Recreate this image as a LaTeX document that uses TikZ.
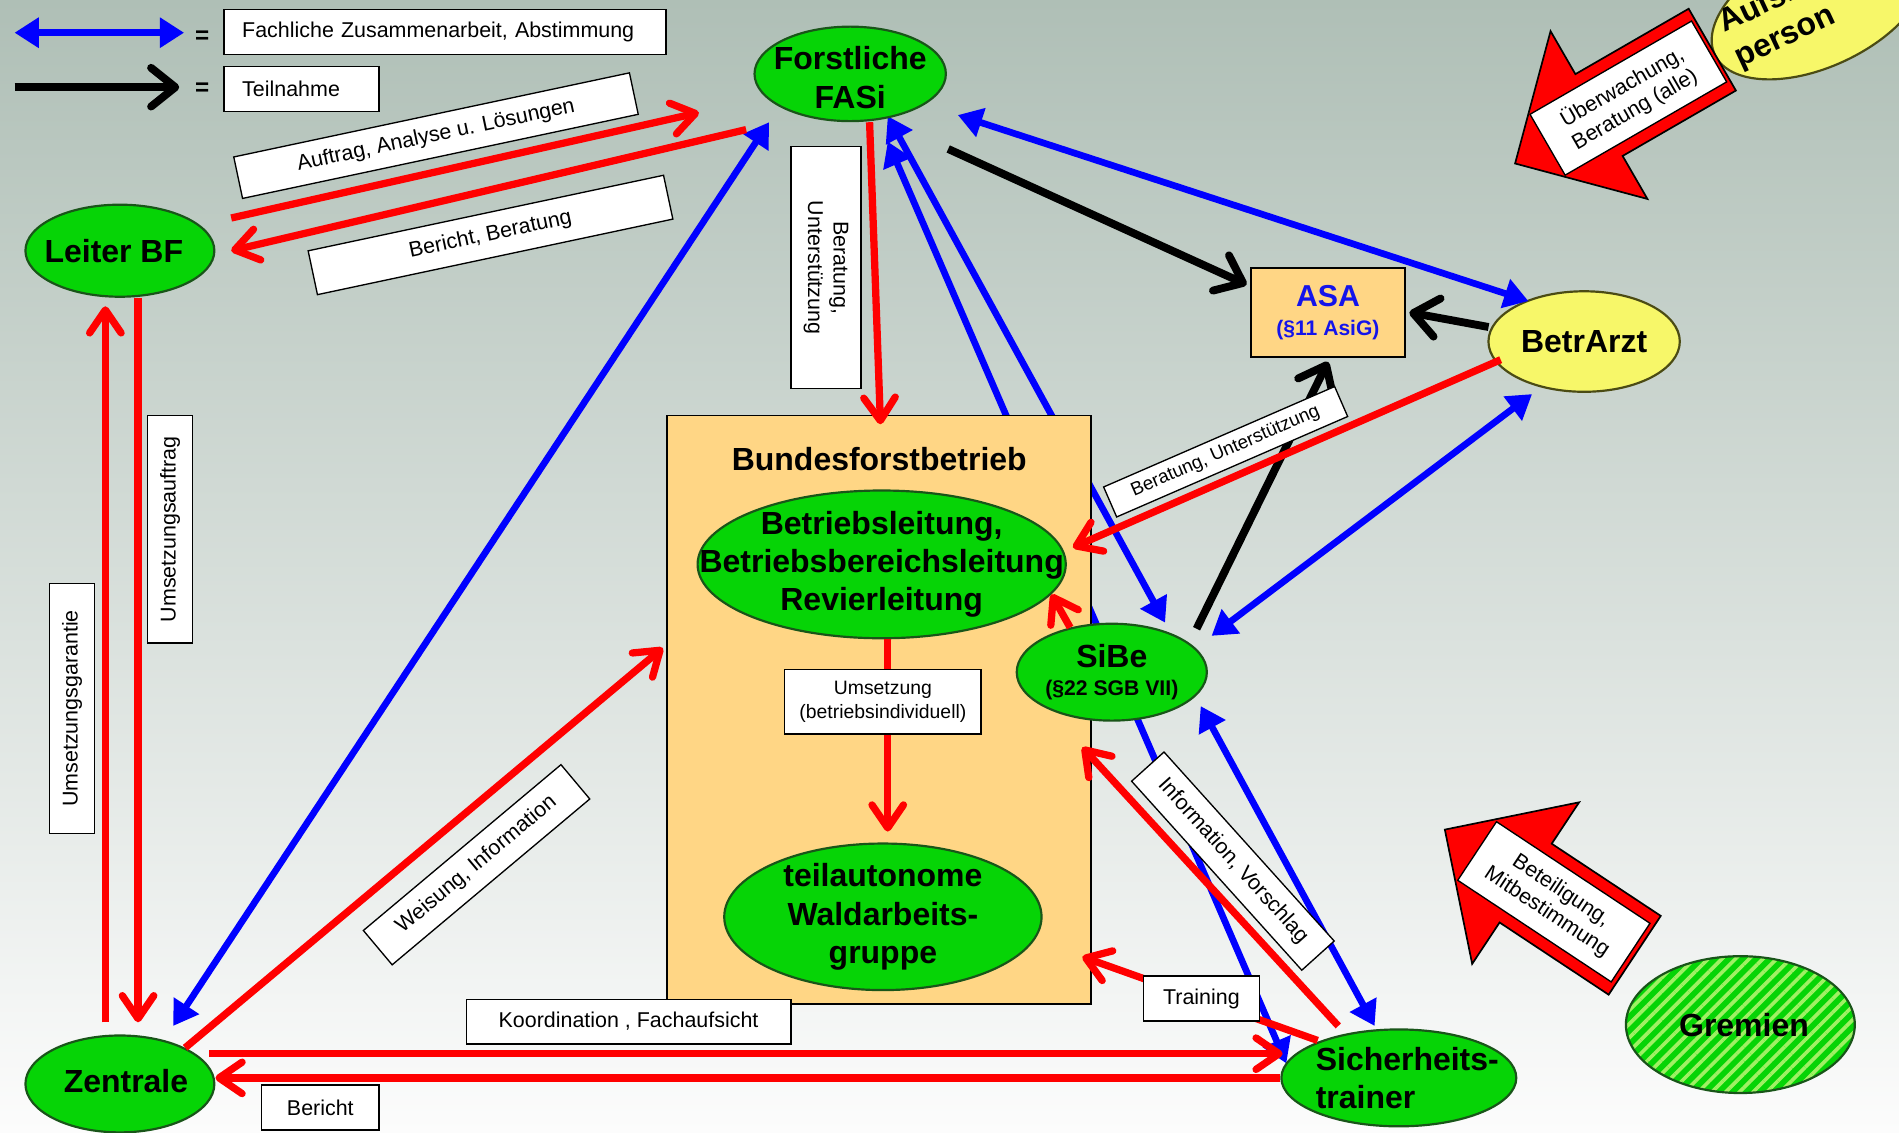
\documentclass[tikz,border=0pt]{standalone}
\usepackage{fontspec}
\setmainfont{Liberation Sans}
\usepackage{tikz}
\usetikzlibrary{shapes.geometric,arrows.meta,calc,patterns.meta}

\definecolor{bgtop}{RGB}{175,191,182}
\definecolor{bgbot}{RGB}{252,252,252}
\definecolor{ballgreen}{RGB}{6,212,6}
\definecolor{balledge}{RGB}{25,85,25}
\definecolor{ballyellow}{RGB}{247,247,105}
\definecolor{yellowedge}{RGB}{75,75,20}
\definecolor{boxorange}{RGB}{255,214,133}
\definecolor{stripe}{RGB}{160,240,100}
\definecolor{asablue}{RGB}{20,20,235}

\pgfdeclarelayer{back}
\pgfdeclarelayer{under}
\pgfsetlayers{back,under,main}

\begin{document}
\begin{tikzpicture}[x=1pt,y=-1pt,
	ball/.style={ellipse,draw=balledge,line width=1.8pt,fill=ballgreen,inner sep=0pt},
	yball/.style={ball,draw=yellowedge,fill=ballyellow},
	bigtext/.style={font=\fontsize{26.4}{31.5}\selectfont\bfseries,align=center},
	lbl/.style={draw,line width=1.1pt,fill=white,inner sep=0pt,align=center,font=\fontsize{17.7}{21}\selectfont},
	obox/.style={draw,line width=1.4pt,fill=boxorange,inner sep=0pt},
	eqsign/.style={font=\fontsize{20}{20}\selectfont\bfseries},
	redarr/.style={draw=red,line width=6pt,-{Straight Barb[length=19pt,width=26pt,round]}},
	bluearr/.style={draw=blue,line width=5.5pt,{Triangle[length=20pt,width=24pt]}-{Triangle[length=20pt,width=24pt]}},
	blackarr/.style={draw=black,line width=6.5pt,-{Straight Barb[length=20pt,width=32pt,round]}},
	blockarr/.style={draw,line width=1.4pt,fill=red,line join=miter}]
	\useasboundingbox (0,0) rectangle (1568,935);
	\begin{pgfonlayer}{back}
		\shade[top color=bgtop,bottom color=bgbot] (0,0) rectangle (1568,935);
	\end{pgfonlayer}

	\coordinate (lb1) at (12,27);
	\coordinate (lb2) at (152,27);
	\coordinate (lk1) at (12,72);
	\coordinate (lk2) at (148,72);
	\draw[bluearr] (lb1) -- (lb2);
	\draw[blackarr] (lk1) -- (lk2);
	\node[eqsign] (eq1) at (167,31) {=};
	\node[eqsign] (eq2) at (167,74) {=};
	\node[lbl,minimum width=365,minimum height=37,text width=335,align=left] (zusarb) at (367.5,26.5) {Fachliche Zusammenarbeit, Abstimmung};
	\node[lbl,minimum width=128,minimum height=37,text width=98,align=left] (teiln) at (249,73.5) {Teilnahme};

	\node[ball,minimum width=156,minimum height=76,label={[bigtext,xshift=-5pt]center:Leiter BF}] (leiterbf) at (99,207) {};
	\node[ball,minimum width=158,minimum height=78,label={[bigtext,yshift=-3pt]center:{Forstliche\\FASi}}] (fasi) at (702,61) {};
	\node[ball,minimum width=156,minimum height=80,label={[bigtext,xshift=5pt,yshift=2pt]center:Zentrale}] (zentrale) at (99,895) {};
	\node[ball,minimum width=194,minimum height=80,label={[bigtext,align=left,xshift=7pt]center:{Sicherheits-\\trainer}}] (sitrainer) at (1155,890) {};
	\node[yball,minimum width=158,minimum height=83,label={[bigtext]center:BetrArzt}] (betrarzt) at (1308,282) {};
	\node[ball,minimum width=189,minimum height=113,preaction={fill=ballgreen},pattern={Lines[angle=45,distance=8pt,line width=3pt]},pattern color=stripe,label={[bigtext,xshift=3pt]center:Gremien}] (gremien) at (1437,846) {};
	\node[yball,rotate=25,minimum width=190,minimum height=100] (aufsicht) at (1502,5) {};
	\node[bigtext,rotate=25,align=left] (aufsichttext) at (1486,8) {Aufsichts-\\person};

	\node[obox,minimum width=350,minimum height=486] (bfb) at (726,586) {};
	\node[bigtext] (bfbtitle) at (726,379) {Bundesforstbetrieb};
	\node[ball,minimum width=304,minimum height=122,label={[bigtext]center:{Betriebsleitung,\\Betriebsbereichsleitung\\Revierleitung}}] (bl) at (728,466) {};
	\node[ball,minimum width=262,minimum height=121,label={[bigtext]center:{teilautonome\\Waldarbeits-\\gruppe}}] (teil) at (729,757) {};
	\node[ball,minimum width=157,minimum height=80,label={[bigtext]center:{SiBe\\[-8pt]{\fontsize{17.5}{20}\selectfont(§22 SGB VII)}}}] (sibe) at (918,555) {};
	\node[obox,minimum width=127,minimum height=74,text=asablue,align=center,font=\fontsize{25}{27}\selectfont\bfseries] (asa) at (1096.5,258) {ASA\\[-3pt]{\fontsize{17.4}{20}\selectfont(§11 AsiG)}};

	\begin{scope}[shift={(1251,135)},rotate=30]
		\draw[blockarr] (0,0) -- (80,-80) -- (80,-39) -- (188,-39) -- (188,39) -- (80,39) -- (80,80) -- cycle;
	\end{scope}
	\begin{scope}[shift={(1193,685)},rotate=-33.5]
		\draw[blockarr] (0,0) -- (80,-80) -- (80,-39) -- (188,-39) -- (188,39) -- (80,39) -- (80,80) -- cycle;
	\end{scope}
	\node[lbl,rotate=30,minimum width=154,minimum height=58] (ueberw) at (1344.5,81) {Überwachung,\\Beratung (alle)};
	\node[lbl,rotate=-33.5,minimum width=152,minimum height=58] (beteil) at (1283,744.6) {Beteiligung,\\Mitbestimmung};

	\begin{pgfonlayer}{under}
		\draw[bluearr] ($(fasi.south)+(31,-5)$) -- ($(sibe.north)+(44,0)$);
		\draw[bluearr] ($(fasi.south)+(31,16)$) -- ($(sitrainer.west)+(5,-12)$);
	\end{pgfonlayer}
	\draw[bluearr] ($(fasi.south)+(-67,0)$) -- ($(zentrale.north)+(44,-7)$);
	\draw[bluearr] ($(fasi.east)+(9,34)$) -- ($(betrarzt.north)+(-46,9)$);
	\draw[bluearr] ($(sibe.east)+(3,-30)$) -- ($(betrarzt.south)+(-43,1)$);
	\draw[bluearr] ($(sibe.east)+(-6,28)$) -- ($(sitrainer.north)+(-20,-2)$);

	\draw[blackarr] ($(fasi.east)+(1,62)$) -- ($(asa.west)+(-3,-23)$);
	\draw[blackarr] ($(betrarzt.west)+(1,-12)$) -- ($(asa.east)+(3,0)$);
	\draw[blackarr] ($(sibe.north)+(70,5)$) -- ($(asa.south)+(0,3)$);

	\draw[redarr] ($(leiterbf.east)+(13,-27)$) -- ($(fasi.west)+(-45,32)$);
	\draw[redarr] ($(fasi.west)+(-6,46)$) -- ($(leiterbf.east)+(13,0)$);
	\draw[redarr] ($(fasi.south)+(16,0)$) -- ($(bfb.north)+(1,8)$);
	\draw[redarr] ($(leiterbf.south)+(15,0)$) -- ($(zentrale.north)+(15,-10)$);
	\draw[redarr] ($(zentrale.north)+(-12,-10)$) -- ($(leiterbf.south)+(-12,7)$);
	\draw[redarr] (zentrale.29) -- ($(bfb.west)+(-3,-51)$);
	\draw[redarr] ($(zentrale.east)+(-5,-25)$) -- ($(sitrainer.west)+(2,-20)$);
	\draw[redarr] (sitrainer.west) -- (sitrainer.west -| zentrale.east);
	\draw[redarr] ($(bl.south)+(5,0)$) -- ($(teil.north)+(4,-9)$);
	\draw[redarr] ($(betrarzt.west)+(11,15)$) -- ($(bl.east)+(5,-14)$);
	\draw[redarr] (sibe.133) -- (bl.-10);
	\draw[redarr] ($(sitrainer.north)+(-50,-2)$) -- ($(bfb.east)+(-8,31)$);
	\draw[redarr] ($(sitrainer.north)+(-67,10)$) -- ($(bfb.east)+(-8,204)$);

	\node[lbl,rotate=12,minimum width=334,minimum height=35] (auftrag) at (360,112) {Auftrag, Analyse u. Lösungen};
	\node[lbl,rotate=12,minimum width=300,minimum height=37] (berbf) at (405,194) {Bericht, Beratung};
	\node[lbl,rotate=90,minimum width=188,minimum height=37] (umauftrag) at (140.5,437) {Umsetzungsauftrag};
	\node[lbl,rotate=90,minimum width=206,minimum height=37] (umgarantie) at (59.5,585) {Umsetzungsgarantie};
	\node[lbl,rotate=-90,minimum width=200,minimum height=58] (berfasi) at (682,221) {Beratung,\\Unterstützung};
	\node[lbl,rotate=40,minimum width=213,minimum height=37] (weisung) at (393.5,714) {Weisung, Information};
	\node[lbl,minimum width=162,minimum height=53,font=\fontsize{16}{19}\selectfont] (umsetzung) at (729,579.5) {Umsetzung\\(betriebsindividuell)};
	\node[lbl,minimum width=268,minimum height=37] (koord) at (519,843.5) {Koordination , Fachaufsicht};
	\node[lbl,minimum width=97,minimum height=37] (bericht) at (264.5,914.5) {Bericht};
	\node[lbl,minimum width=96,minimum height=37] (training) at (992,824.5) {Training};
	\node[lbl,rotate=-48,minimum width=210,minimum height=36] (infovor) at (1018,711) {Information, Vorschlag};
	\node[lbl,rotate=23.5,minimum width=208,minimum height=27,font=\fontsize{15.5}{18}\selectfont] (berasa) at (1012,373) {Beratung, Unterstützung};
\end{tikzpicture}
\end{document}
